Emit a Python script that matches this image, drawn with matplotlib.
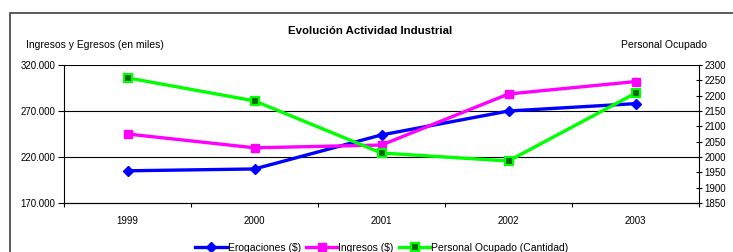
import matplotlib.pyplot as plt
from matplotlib.patches import Rectangle
from matplotlib.lines import Line2D

plt.rcParams['font.family'] = ['Liberation Sans', 'DejaVu Sans']

years = ['1999', '2000', '2001', '2002', '2003']
erogaciones = [205000, 207000, 244000, 270000, 278000]
ingresos = [245000, 230000, 233000, 288500, 302000]
personal = [2258, 2183, 2013, 1987, 2208]

left_ticks = [170000, 220000, 270000, 320000]
left_labels = ['170.000', '220.000', '270.000', '320.000']
right_ticks = list(range(1850, 2301, 50))

fig = plt.figure(figsize=(7.33, 2.52), dpi=100)
# chart-area border, cut off at the right and bottom like the reference
fig.patches.append(Rectangle((10 / 733, -0.2), 1.2, 1.2 - 13 / 252,
                             transform=fig.transFigure, fill=False,
                             edgecolor='#404040', linewidth=1.2))

ax = fig.add_axes([64 / 733, 1 - 203 / 252, 635 / 733, 138 / 252])
x = list(range(len(years)))

ax.plot(x, erogaciones, color='#0000ff', lw=2.4, marker='D', ms=5.2,
        label='Erogaciones ($)', zorder=3)
ax.plot(x, ingresos, color='#ff00ff', lw=2.4, marker='s', ms=5.8,
        label='Ingresos ($)', zorder=3)

ax2 = ax.twinx()
ax2.plot(x, personal, color='#00ff00', lw=2.4, marker='s', ms=5.8,
         markerfacecolor='#006600', markeredgecolor='#00ff00', mew=1.6,
         label='Personal Ocupado (Cantidad)', zorder=3)

ax.set_xlim(-0.5, 4.5)
ax.set_ylim(170000, 320000)
ax2.set_ylim(1850, 2300)

ax.set_yticks(left_ticks)
ax.set_yticklabels(left_labels)
ax2.set_yticks(right_ticks)
ax.set_xticks(x)
ax.set_xticklabels(years)
ax.set_xticks([i + 0.5 for i in range(-1, 5)], minor=True)
ax.tick_params(axis='x', which='major', length=0, pad=9, labelsize=7)
ax.tick_params(axis='x', which='minor', length=3, direction='out', width=0.8)
ax.tick_params(axis='y', length=4, width=0.8, labelsize=7, pad=2)
ax2.tick_params(axis='y', length=4, width=0.8, labelsize=7, pad=2, direction='inout')

for t in left_ticks[1:]:
    ax.axhline(t, color='black', lw=0.8, zorder=1)

for s in ['top', 'right']:
    ax.spines[s].set_visible(False)
ax2.spines['top'].set_visible(False)
ax2.spines['left'].set_visible(False)
for a in (ax, ax2):
    for s in a.spines.values():
        s.set_linewidth(0.8)

fig.text(370 / 733, 1 - 31 / 252, 'Evolución Actividad Industrial',
         ha='center', va='center', fontsize=8.2, fontweight='bold')
fig.text(26 / 733, 1 - 45 / 252, 'Ingresos y Egresos (en miles)',
         ha='left', va='center', fontsize=7.5)
fig.text(707 / 733, 1 - 45 / 252, 'Personal Ocupado',
         ha='right', va='center', fontsize=7.5)

handles = [
    Line2D([], [], color='#0000ff', lw=2.4, marker='D', ms=5.2),
    Line2D([], [], color='#ff00ff', lw=2.4, marker='s', ms=5.8),
    Line2D([], [], color='#00ff00', lw=2.4, marker='s', ms=5.8,
           markerfacecolor='#006600', markeredgecolor='#00ff00', mew=1.6),
]
fig.legend(handles, ['Erogaciones ($)', 'Ingresos ($)', 'Personal Ocupado (Cantidad)'],
           loc='center', bbox_to_anchor=(382 / 733, 1 - 248 / 252), ncol=3,
           frameon=False, fontsize=7.5, handlelength=3, handletextpad=0.1,
           columnspacing=0.5)

fig.savefig('out.png', dpi=100)
